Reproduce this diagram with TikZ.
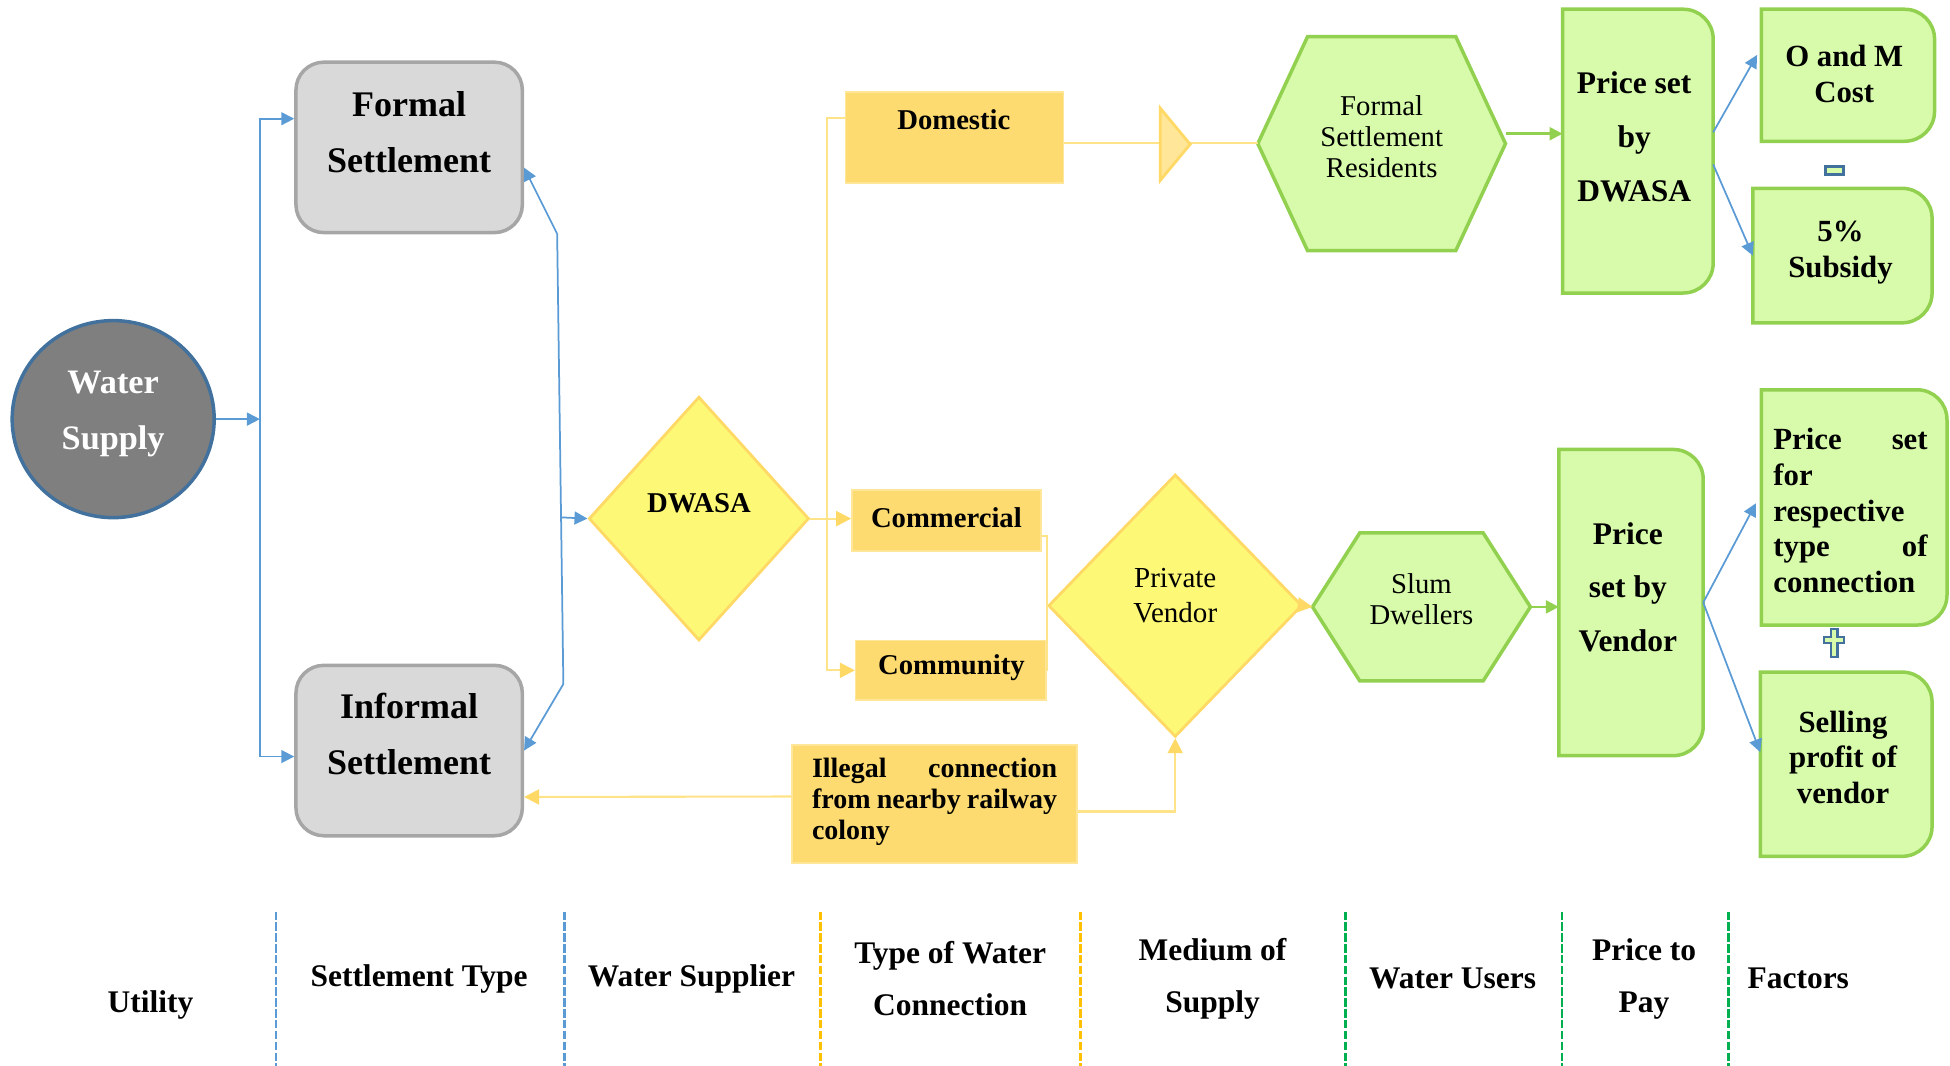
\documentclass[tikz,border=0pt]{standalone}
\usepackage{fontspec}
\setmainfont{Liberation Serif}
\usetikzlibrary{shapes.geometric,arrows.meta}

\definecolor{blu}{HTML}{5B9BD5}
\definecolor{darkblu}{HTML}{41719C}
\definecolor{grayfill}{HTML}{D9D9D9}
\definecolor{grayline}{HTML}{A6A6A6}
\definecolor{cfill}{HTML}{7F7F7F}
\definecolor{dfill}{HTML}{FDF976}
\definecolor{yline}{HTML}{FFD966}
\definecolor{bfill}{HTML}{FDDB70}
\definecolor{tfill}{HTML}{FFE699}
\definecolor{ylink}{HTML}{FFE389}
\definecolor{gfill}{HTML}{D7FBAA}
\definecolor{gline}{HTML}{92D050}
\definecolor{orng}{HTML}{FFC000}
\definecolor{grn}{HTML}{00B050}

% outline rounded on the right side only
\newcommand\rside[1]{%
  \path[draw,gbox] (#1.south west) -- (#1.north west)
    -- ([xshift=-3mm]#1.north east) arc[start angle=90,end angle=0,radius=3mm]
    -- ([yshift=3mm]#1.south east) arc[start angle=0,end angle=-90,radius=3mm] -- cycle;}
% hexagon over a node, #2 = inset
\newcommand\hexa[2]{%
  \path[draw,gbox] (#1.west) -- ([xshift=#2]#1.north west) -- ([xshift=-#2]#1.north east)
    -- (#1.east) -- ([xshift=-#2]#1.south east) -- ([xshift=#2]#1.south west) -- cycle;}

\begin{document}
\begin{tikzpicture}[x=0.0125cm,y=-0.0125cm,
  >={Triangle[length=1.3mm,width=1.3mm]},
  bl/.style={blu,line width=0.5pt},
  yl/.style={ylink,line width=0.6pt},
  gl/.style={gline,line width=0.7pt},
  yarr/.style={-{Triangle[length=1.5mm,width=1.5mm,color=yline]}},
  settle/.style={rectangle,rounded corners=2.8mm,draw=grayline,fill=grayfill,line width=1pt},
  dia/.style={diamond,draw=yline,fill=dfill,line width=0.8pt,inner sep=0},
  ybox/.style={rectangle,draw=tfill,fill=bfill,inner sep=0},
  hid/.style={rectangle,inner sep=0},
  gbox/.style={draw=gline,fill=gfill,line width=1pt},
  txt/.style={inner sep=0,align=center},
  bigtxt/.style={txt,font=\bfseries\fontsize{10.3}{16}\selectfont},
  medtxt/.style={txt,font=\bfseries\fontsize{9}{15.3}\selectfont},
  smltxt/.style={txt,font=\bfseries\fontsize{8.2}{10}\selectfont},
  factxt/.style={txt,font=\bfseries\fontsize{8.8}{10.2}\selectfont},
  regtxt/.style={txt,font=\fontsize{8.2}{8.9}\selectfont},
  coltxt/.style={txt,font=\bfseries\fontsize{9}{15}\selectfont},
  divider/.style={line width=0.8pt,dash pattern=on 2.4pt off 0.7pt}
]
\useasboundingbox (0,0) rectangle (1568,857);

% utility and settlements
\node[ellipse,draw=darkblu,fill=cfill,line width=1pt,minimum width=2.03cm,minimum height=1.98cm,inner sep=0] (ws) at (91,337) {};
\node[txt,text=white,font=\bfseries\fontsize{9.8}{16}\selectfont] (wst) at (91,333) {Water\\Supply};
\node[settle,minimum width=2.275cm,minimum height=1.7125cm] (formal) at (329,118.5) {};
\node[bigtxt] (formalt) at (329,106.5) {Formal\\Settlement};
\node[settle,minimum width=2.275cm,minimum height=1.7125cm] (informal) at (329,603.5) {};
\node[bigtxt] (informalt) at (329,590.5) {Informal\\Settlement};

% supplier and connection types
\node[dia,minimum width=2.2125cm,minimum height=2.45cm] (dwasa) at (562,417) {};
\node[smltxt] (dwasat) at (562,405) {DWASA};
\node[ybox,minimum width=2.1875cm,minimum height=0.9125cm] (dom) at (767.5,110.5) {};
\node[smltxt] (domt) at (767,96) {Domestic};
\node[ybox,minimum width=1.9cm,minimum height=0.6125cm] (cml) at (761,418.5) {};
\node[smltxt] (cmlt) at (761,416) {Commercial};
\node[ybox,minimum width=1.9125cm,minimum height=0.6cm] (cmty) at (764.5,539) {};
\node[smltxt] (cmtyt) at (765,537) {Community};

% medium of supply
\node[dia,minimum width=2.55cm,minimum height=2.6375cm] (pv) at (945,487) {};
\node[txt,font=\fontsize{8.3}{10}\selectfont] (pvt) at (945,479) {Private\\Vendor};
\node[ybox,minimum width=2.8625cm,minimum height=1.1875cm] (ill) at (751.5,646.5) {};
\node[txt,align=left,text width=2.4625cm,font=\bfseries\fontsize{8}{8.9}\selectfont] (illt) at (751.5,645)
  {Illegal\hfill connection\\from\hfill nearby\hfill railway\\colony};

% users
\node[hid,minimum width=2.475cm,minimum height=2.1375cm] (fsr) at (1111,115.5) {};
\hexa{fsr}{0.5cm}
\node[regtxt] (fsrt) at (1111,110) {Formal\\Settlement\\Residents};
\node[hid,minimum width=2.175cm,minimum height=1.475cm] (slum) at (1143,488) {};
\hexa{slum}{0.475cm}
\node[regtxt] (slumt) at (1143,482) {Slum\\Dwellers};

% price
\node[hid,minimum width=1.5cm,minimum height=2.8375cm] (pdw) at (1317,121.5) {};
\rside{pdw}
\node[medtxt] (pdwt) at (1314,110) {Price set\\by\\DWASA};
\node[hid,minimum width=1.4375cm,minimum height=3.0625cm] (pvn) at (1311.5,484.5) {};
\rside{pvn}
\node[medtxt] (pvnt) at (1309,472) {Price\\set by\\Vendor};

% factors
\node[hid,minimum width=1.725cm,minimum height=1.3125cm] (om) at (1486,60.5) {};
\rside{om}
\node[factxt] (omt) at (1483,59.5) {O and M\\Cost};
\node[hid,minimum width=1.7875cm,minimum height=1.3375cm] (sub) at (1481.5,205.5) {};
\rside{sub}
\node[factxt] (subt) at (1480,203) {5\%\\Subsidy};
\node[hid,minimum width=1.85cm,minimum height=2.35cm] (pst) at (1491,408) {};
\rside{pst}
\node[factxt,align=left,text width=1.55cm] (pstt) at (1488,410.5)
  {Price\hfill set\\for\\respective\\type\hfill of\\connection};
\node[hid,minimum width=1.7125cm,minimum height=1.8375cm] (spv) at (1484.5,614.5) {};
\rside{spv}
\node[factxt] (spvt) at (1482,609) {Selling\\profit of\\vendor};

\node[rectangle,draw=darkblu,fill=gfill,line width=0.8pt,minimum width=0.18cm,minimum height=0.08cm,inner sep=0] (minus) at (1475,137) {};
\path[draw=darkblu,fill=gfill,line width=0.6pt] (1472.5,506) -- (1477.5,506) -- (1477.5,512) -- (1483,512)
  -- (1483,517) -- (1477.5,517) -- (1477.5,528) -- (1472.5,528) -- (1472.5,517) -- (1467,517)
  -- (1467,512) -- (1472.5,512) -- cycle;

% blue links
\coordinate (bus) at (209,337);
\coordinate (rt) at (448,188);
\coordinate (rb) at (453,550);
\coordinate (rm) at (451,416);
\path[draw,bl,->] (ws.east) -- (bus);
\path[draw,bl,->] (bus) |- (formal.166);
\path[draw,bl,->] (bus) |- (informal.183);
\path[draw,bl] (rt) -- (rb);
\path[draw,bl,->] (rt) -- (formal.-10);
\path[draw,bl,->] (rb) -- (informal.east);
\path[draw,bl,->] (rm) -- (dwasa.west);

% yellow links
\coordinate (yj) at (665,417);
\path[draw,yl,yarr] (dwasa.east) -- (dwasa.east -| cml.west);
\path[draw,yl] (yj) |- (dom.170);
\path[draw,yl,yarr] (yj) |- (cmty.west);
\path[draw,yl] (cml.-9) -| (pv.west);
\path[draw,yl] (cmty.east) -| (pv.west);
\path[draw,yl,yarr] (ill.177) -- (informal.-22);
\path[draw,yl,yarr] (ill.-3) -| (pv.south);
\path[draw,yl,yarr] (pv.east) -- (slum.west);
\path[draw,yl] (dom.-3) -- (dom.-3 -| fsr.west);
\path[draw=yline,fill=tfill,line width=0.8pt] (933,87) -- (957,116) -- (933,145) -- cycle;

% green links
\path[draw,gl,->] (fsr.east |- pdw.167) -- (pdw.167);
\path[draw,gl,->] (slum.east) -- (slum.east -| pvn.west);

% blue links to factors
\path[draw,bl,->,shorten >=0.09cm] (pdw.14) -- (om.162);
\path[draw,bl,->] (pdw.-10) -- (sub.west);
\path[draw,bl,->,shorten >=0.12cm] (pvn.east) -- (pst.171);
\path[draw,bl,->] (pvn.east) -- (spv.172);

% column dividers
\foreach \x/\c in {222/blu,454/blu,660/orng,869/orng,1082/grn,1256/grn,1390/grn}
  \draw[divider,\c] (\x,733) -- (\x,857);

\node[coltxt] (c1) at (121,808) {Utility};
\node[coltxt] (c2) at (337,787) {Settlement Type};
\node[coltxt] (c3) at (556,787) {Water Supplier};
\node[coltxt] (c4) at (764,787) {Type of Water\\Connection};
\node[coltxt] (c5) at (975,787) {Medium of\\Supply};
\node[coltxt] (c6) at (1168,787) {Water Users};
\node[coltxt] (c7) at (1322,787) {Price to\\Pay};
\node[coltxt] (c8) at (1446,787) {Factors};
\end{tikzpicture}
\end{document}
